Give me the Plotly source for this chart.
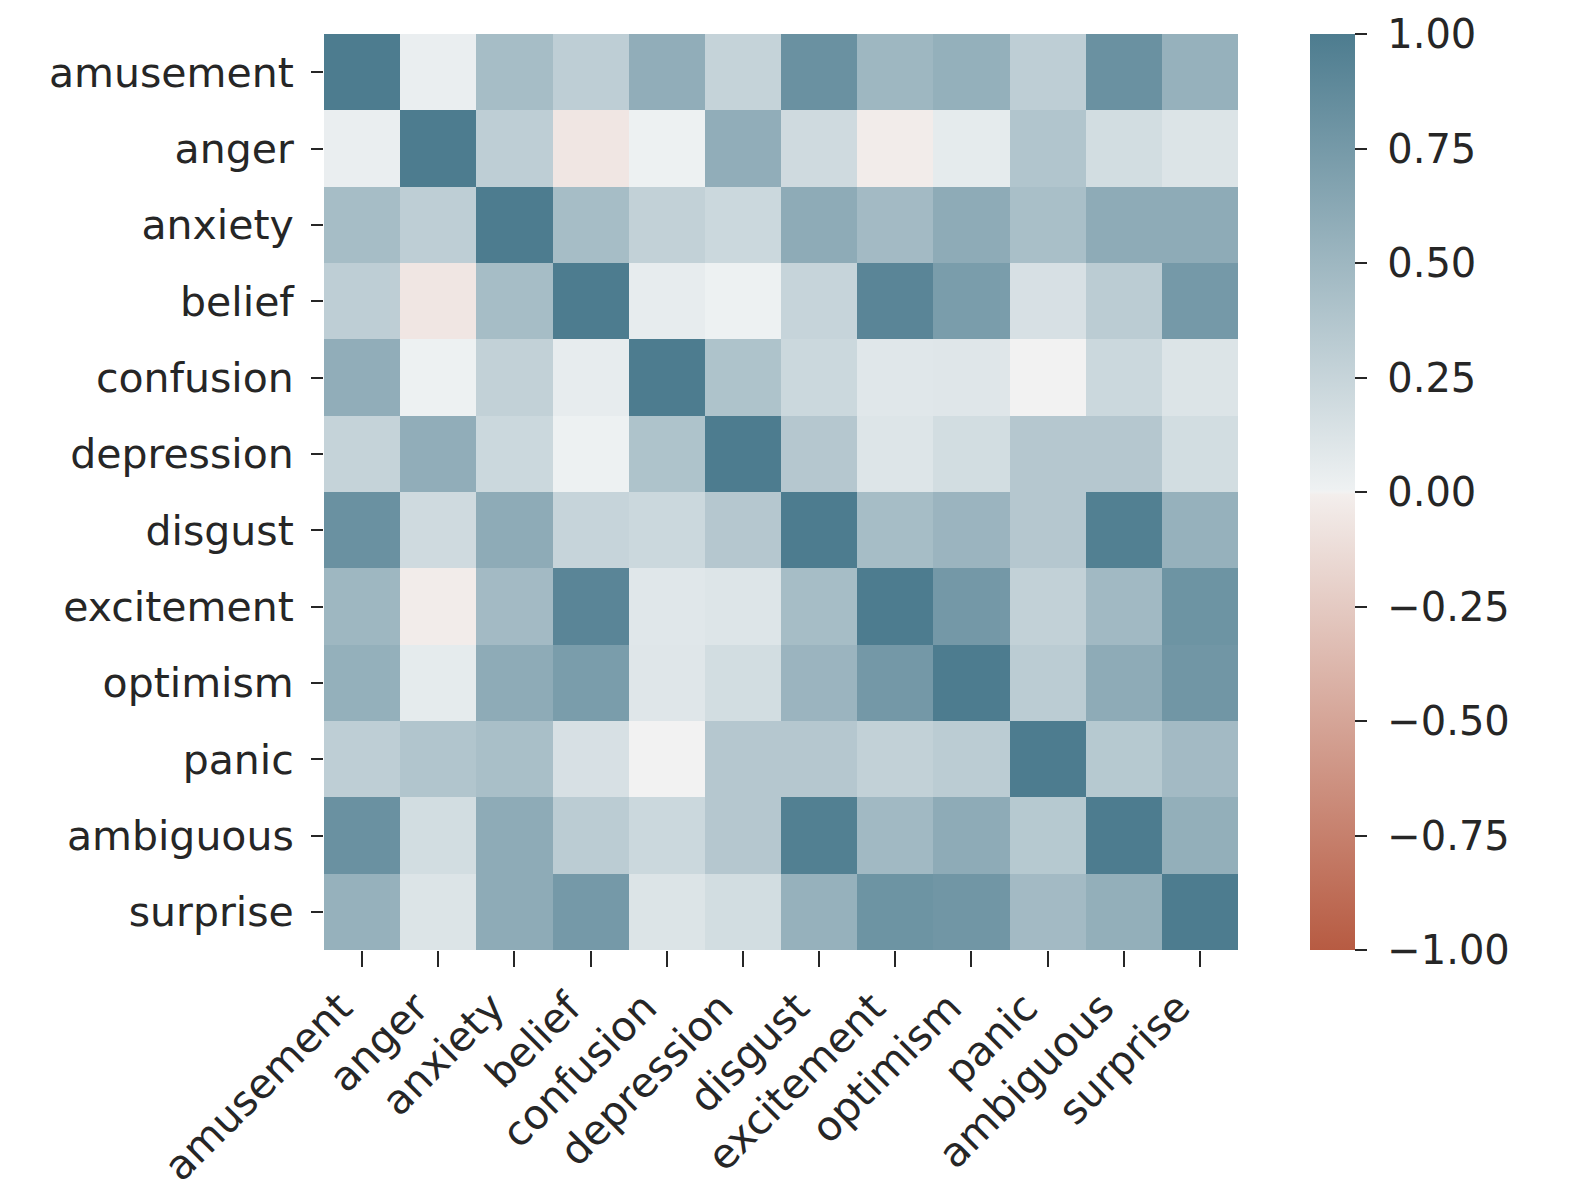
import plotly.graph_objects as go

labels = ["amusement", "anger", "anxiety", "belief", "confusion", "depression",
          "disgust", "excitement", "optimism", "panic", "ambiguous", "surprise"]

row_amusement  = [1.00, 0.03, 0.45, 0.30, 0.58, 0.26, 0.82, 0.50, 0.56, 0.30, 0.82, 0.55]
row_anger      = [0.03, 1.00, 0.30, -0.06, 0.01, 0.58, 0.20, -0.02, 0.06, 0.38, 0.18, 0.12]
row_anxiety    = [0.45, 0.30, 1.00, 0.45, 0.28, 0.22, 0.60, 0.47, 0.60, 0.43, 0.60, 0.60]
row_belief     = [0.30, -0.06, 0.45, 1.00, 0.05, 0.01, 0.25, 0.92, 0.72, 0.15, 0.32, 0.75]
row_confusion  = [0.58, 0.01, 0.28, 0.05, 1.00, 0.40, 0.22, 0.09, 0.10, 0.00, 0.22, 0.12]
row_depression = [0.26, 0.58, 0.22, 0.01, 0.40, 1.00, 0.36, 0.11, 0.18, 0.36, 0.36, 0.18]
row_disgust    = [0.82, 0.20, 0.60, 0.25, 0.22, 0.36, 1.00, 0.45, 0.52, 0.36, 0.97, 0.55]
row_excitement = [0.50, -0.02, 0.47, 0.92, 0.09, 0.11, 0.45, 1.00, 0.76, 0.28, 0.48, 0.80]
row_optimism   = [0.56, 0.06, 0.60, 0.72, 0.10, 0.18, 0.52, 0.76, 1.00, 0.32, 0.60, 0.78]
row_panic      = [0.30, 0.38, 0.43, 0.15, 0.00, 0.36, 0.36, 0.28, 0.32, 1.00, 0.35, 0.47]
row_ambiguous  = [0.82, 0.18, 0.60, 0.32, 0.22, 0.36, 0.97, 0.48, 0.60, 0.35, 1.00, 0.57]
row_surprise   = [0.55, 0.12, 0.60, 0.75, 0.12, 0.18, 0.55, 0.80, 0.78, 0.47, 0.57, 1.00]

z = [row_amusement, row_anger, row_anxiety, row_belief, row_confusion, row_depression,
     row_disgust, row_excitement, row_optimism, row_panic, row_ambiguous, row_surprise]

cbar_vals = [1.0, 0.75, 0.5, 0.25, 0.0, -0.25, -0.5, -0.75, -1.0]
cbar_text = ["1.00", "0.75", "0.50", "0.25", "0.00", "\u22120.25", "\u22120.50", "\u22120.75", "\u22121.00"]

colorscale = [
    [0.0, "#b75b42"],
    [0.497, "#f3eeec"],
    [0.5, "#f2f2f2"],
    [0.503, "#eef1f2"],
    [1.0, "#4d7c8f"],
]

txt = "#262626"
font = dict(family="DejaVu Sans", size=41, color=txt)
cfont = dict(family="DejaVu Sans", size=40, color=txt)

fig = go.Figure(go.Heatmap(
    z=z, x=labels, y=labels,
    zmin=-1, zmax=1,
    colorscale=colorscale,
    colorbar=dict(
        x=1.079, xanchor="left", xref="paper",
        y=0.5, yanchor="middle", len=1.0, lenmode="fraction",
        thickness=45, thicknessmode="pixels",
        outlinewidth=0,
        ticks="outside", ticklen=12, tickwidth=2, tickcolor=txt,
        tickvals=cbar_vals, ticktext=["\u00a0" + t for t in cbar_text],
        tickfont=cfont,
        xpad=0, ypad=0,
    ),
    hoverongaps=False,
))

fig.update_layout(
    width=1574, height=1200,
    margin=dict(l=316, r=344, t=26, b=258),
    paper_bgcolor="white", plot_bgcolor="white",
    font=font,
)
fig.update_xaxes(
    tickangle=-45, ticks="outside", ticklen=16, tickwidth=2, tickcolor=txt,
    showgrid=False, zeroline=False, showline=False, tickfont=font,
    ticklabelshift=-22,
)
fig.update_yaxes(
    autorange="reversed", ticks="outside", ticklen=12, tickwidth=2, tickcolor=txt,
    showgrid=False, zeroline=False, showline=False, tickfont=font,
    ticklabelstandoff=9,
)

fig.write_html("out.html")
